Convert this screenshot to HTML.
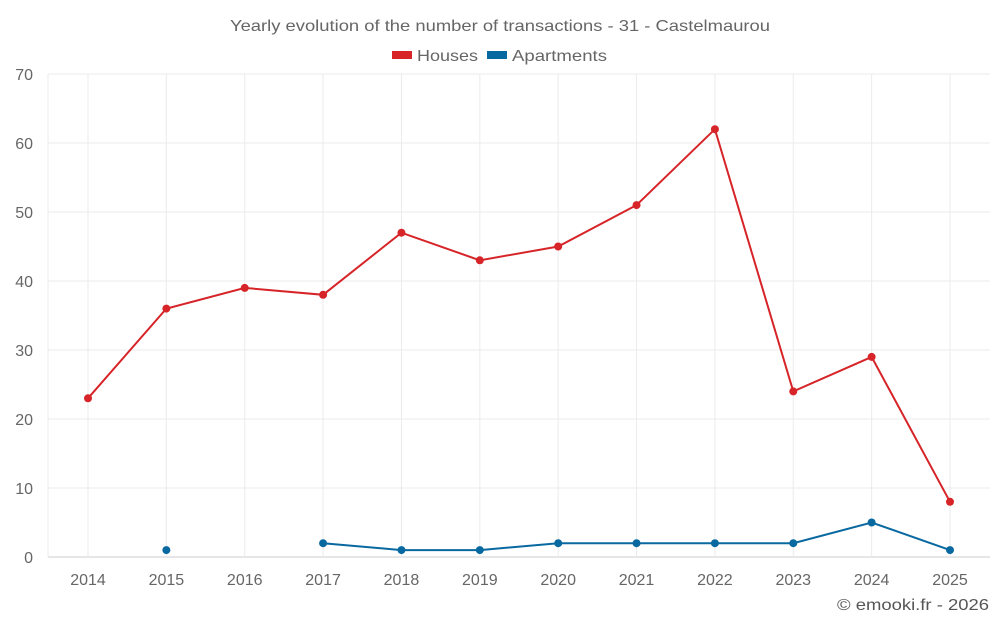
<!DOCTYPE html>
<html><head><meta charset="utf-8"><style>
body{margin:0;background:#fff;font-family:"Liberation Sans",sans-serif}
svg text{font-family:"Liberation Sans",sans-serif}
</style></head><body>
<svg id="chart" width="1000" height="625" xmlns="http://www.w3.org/2000/svg">
<text x="230" y="31" font-size="16" fill="#666" textLength="540" lengthAdjust="spacingAndGlyphs">Yearly evolution of the number of transactions - 31 - Castelmaurou</text>
<g>
<g><rect x="392" y="51" width="20" height="8" fill="#d62428"/><text x="417" y="61" font-size="16" fill="#666" textLength="61" lengthAdjust="spacingAndGlyphs">Houses</text></g>
<g><rect x="487" y="51" width="20" height="8" fill="#0868a0"/><text x="512" y="61" font-size="16" fill="#666" textLength="95" lengthAdjust="spacingAndGlyphs">Apartments</text></g>
</g>
<g id="grid"></g><g id="axes"></g><g id="series"></g>
<text x="837" y="610" font-size="16" fill="#555" textLength="152" lengthAdjust="spacingAndGlyphs">© emooki.fr - 2026</text>
</svg>
<script>
const years=[2014,2015,2016,2017,2018,2019,2020,2021,2022,2023,2024,2025];
const houses=[23,36,39,38,47,43,45,51,62,24,29,8];
const apartments=[null,1,null,2,1,1,2,2,2,2,5,1];
const yTicks=[0,10,20,30,40,50,60,70];
const NS="http://www.w3.org/2000/svg";
const x=i=>88+i*(950-88)/11;
const y=v=>557-v*(557-74)/70;
function mk(tag,attrs,parent,txt){const e=document.createElementNS(NS,tag);for(const k in attrs)e.setAttribute(k,attrs[k]);if(txt!=null)e.textContent=txt;document.getElementById(parent).appendChild(e);return e;}
yTicks.forEach(t=>{
 const l=mk('line',{x1:48,x2:990,y1:y(t),y2:y(t),stroke:t===0?'#ccc':'#ebebeb','stroke-width':1},'grid');
 
 
 const tx=mk('text',{x:33,y:y(t)+6,'text-anchor':'end','font-size':16,fill:'#666'},'axes',t);
 
 
});
mk('line',{x1:48,x2:48,y1:74,y2:557,stroke:'#ebebeb'},'grid');
years.forEach((yr,i)=>{
 const l=mk('line',{x1:x(i),x2:x(i),y1:74,y2:557,stroke:'#ebebeb'},'grid');
 
 
 const tx=mk('text',{x:x(i),y:585,'text-anchor':'middle','font-size':16,fill:'#666'},'axes',yr);
 
 
});
function series(data,color,name){
 let segs=[],cur=[];
 data.forEach((v,i)=>{if(v==null){if(cur.length)segs.push(cur);cur=[];}else cur.push([x(i),y(v)]);});
 if(cur.length)segs.push(cur);
 segs.forEach(s=>{if(s.length>1){const p=mk('polyline',{points:s.map(q=>q.join(',')).join(' '),fill:'none',stroke:color,'stroke-width':2},'series');
 
 }});
 data.forEach((v,i)=>{if(v==null)return;const c=mk('circle',{cx:x(i),cy:y(v),r:4,fill:color},'series');
 
 });
}
series(houses,'#d62428','houses');
series(apartments,'#0868a0','apartments');
</script>
</body></html>
